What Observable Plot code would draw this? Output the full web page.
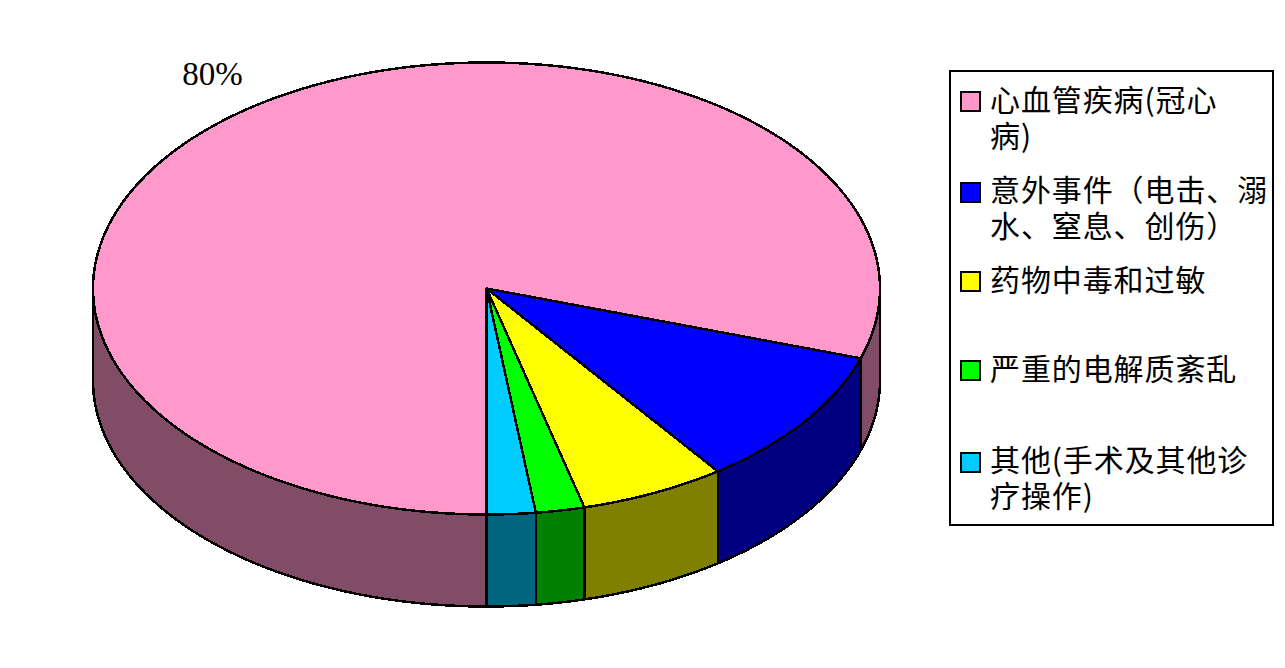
<!DOCTYPE html>
<html lang="zh">
<head>
<meta charset="utf-8">
<script src="https://cdn.jsdelivr.net/npm/d3@7"></script>
<script src="https://cdn.jsdelivr.net/npm/@observablehq/plot@0.6"></script>
<style>
  html, body { margin: 0; padding: 0; background: #fff; }
  #root { position: relative; width: 1285px; height: 668px; overflow: hidden; }
  #root svg { display: block; }
  #legend { position: absolute; left: 949px; top: 70px; width: 325px; height: 456px;
            box-sizing: border-box; border: 2px solid #000; background: #fff;
            font-family: "Noto Sans CJK SC", sans-serif; font-size: 30px; letter-spacing: 0.9px; line-height: 36px; color: #000; }
  .swatch { position: absolute; left: 9px; width: 21px; height: 21px; box-sizing: border-box; border: 2px solid #000; }
  .label { position: absolute; left: 39px; white-space: pre; }
</style>
</head>
<body>
<div id="root"></div>
<script>
// Data
const categories = ["心血管疾病(冠心\n病)", "意外事件（电击、溺\n水、窒息、创伤）", "药物中毒和过敏", "严重的电解质紊乱", "其他(手术及其他诊\n疗操作)"];
const shares = [80, 10, 6, 2, 2];
const topColors = ["#FF99CC", "#0000FF", "#FFFF00", "#00FF00", "#00CCFF"];
const sideColors = ["#804C66", "#000080", "#808000", "#008000", "#006680"];
const labelText = "80%";

// Layout of the projected disc
const depth = 92 / 226;
const labelRadius = 1.172;
const legendSwatchTops = [19, 110, 199, 288, 380];
const legendTextTops = [8, 98, 188, 277, 368];

const rad = a => a * Math.PI / 180;
const px = a => -Math.sin(rad(a));
const py = a => -Math.cos(rad(a));
const total = d3.sum(shares);

function arc(a0, a1) {
  const pts = [];
  const n = Math.max(1, Math.ceil(Math.abs(a1 - a0)));
  for (let i = 0; i <= n; i++) {
    const a = a0 + (a1 - a0) * i / n;
    pts.push({x: px(a), y: py(a)});
  }
  return pts;
}

let cum = 0;
const slices = shares.map((v, i) => {
  const a0 = cum / total * 360;
  cum += v;
  return {i, a0, a1: cum / total * 360, mid: (a0 + cum / total * 360) / 2};
});

const walls = [];
const tops = [];
slices.forEach(s => {
  // the wall shows only along the front half of the rim
  [[0, 90], [270, 360]].forEach(([lo, hi], k) => {
    const a0 = Math.max(s.a0, lo), a1 = Math.min(s.a1, hi);
    if (a1 <= a0) return;
    const rim = arc(a0, a1);
    const ring = [...rim, ...rim.slice().reverse().map(p => ({x: p.x, y: p.y - depth}))];
    ring.push(ring[0]);
    ring.forEach(p => walls.push({...p, id: `w${s.i}-${k}`, color: sideColors[s.i]}));
  });
  const ring = [{x: 0, y: 0}, ...arc(s.a0, s.a1), {x: 0, y: 0}];
  ring.forEach(p => tops.push({...p, id: `t${s.i}`, color: topColors[s.i]}));
});

const label = [{
  x: px(slices[0].mid) * labelRadius,
  y: py(slices[0].mid) * labelRadius,
  text: labelText
}];

const outline = {x: "x", y: "y", z: "id", fill: "color", stroke: "#000", strokeWidth: 2.5, strokeLinejoin: "round", shapeRendering: "crispEdges"};
const chart = Plot.plot({
  width: 1285,
  height: 668,
  margin: 0,
  x: {type: "linear", domain: [-1, 1], range: [92.5, 879.5], axis: null},
  y: {type: "linear", domain: [-1, 1], range: [514, 62], axis: null},
  marks: [
    Plot.line(walls, outline),
    Plot.line(tops, outline),
    Plot.text(label, {x: "x", y: "y", dx: -3, text: "text", fontSize: 33, fontFamily: "'Liberation Serif', serif", fill: "#000"})
  ]
});
const root = document.getElementById("root");
root.appendChild(chart);

const legend = document.createElement("div");
legend.id = "legend";
categories.forEach((c, i) => {
  const sw = document.createElement("div");
  sw.className = "swatch";
  sw.style.top = legendSwatchTops[i] + "px";
  sw.style.background = topColors[i];
  legend.appendChild(sw);
  const t = document.createElement("div");
  t.className = "label";
  t.style.top = legendTextTops[i] + "px";
  t.textContent = c;
  legend.appendChild(t);
});
root.appendChild(legend);
</script>
</body>
</html>
